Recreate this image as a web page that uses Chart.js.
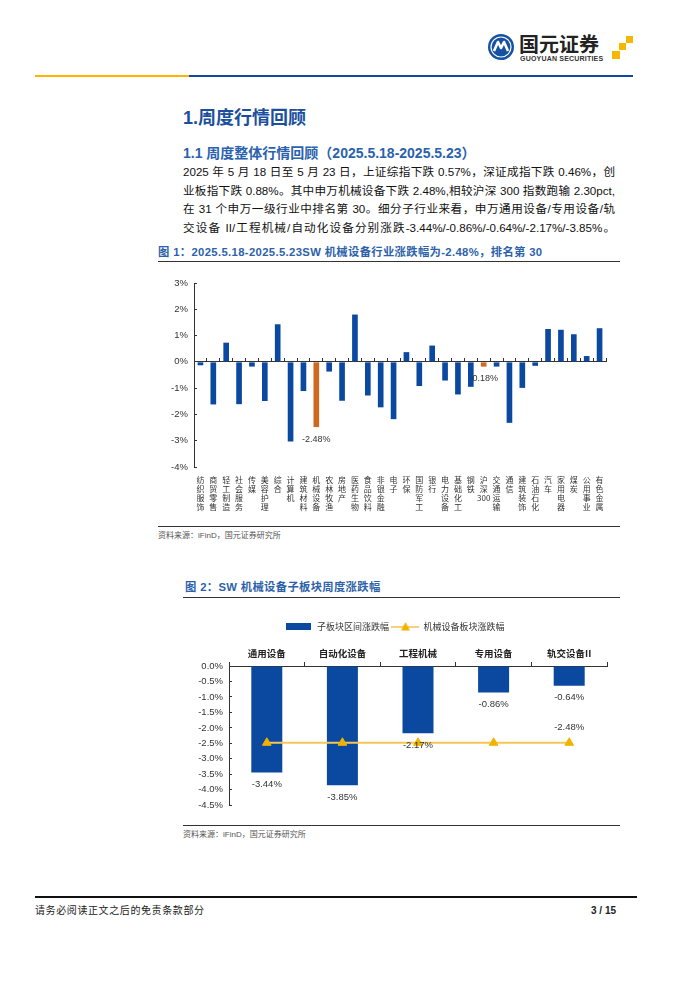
<!DOCTYPE html>
<html>
<head>
<meta charset="utf-8">
<script src="https://cdn.jsdelivr.net/npm/chart.js@4.4.1/dist/chart.umd.min.js"></script>
<style>
  body { margin:0; width:700px; height:990px; background:#fff; position:relative; overflow:hidden;
         font-family:"Liberation Sans","Noto Sans CJK SC",sans-serif; color:#111; }
  .abs { position:absolute; white-space:nowrap; }
  .rule { position:absolute; height:0; border-top:1.5px solid #333; }
  .h1 { left:183px; top:107px; font-size:18px; line-height:22px; font-weight:bold; color:#1b4f9e; }
  .h2 { left:183px; top:144px; font-size:14px; line-height:18px; font-weight:bold; color:#2a62ae; }
  .body { position:absolute; left:183px; width:432px; font-size:11.6px; line-height:18.5px;
          text-align:justify; text-align-last:justify; }
  .figtitle { font-size:11.3px; line-height:14px; font-weight:bold; color:#2d62aa; letter-spacing:0.35px; }
  .src { font-size:8px; line-height:10px; color:#555; }
  canvas { position:absolute; }
</style>
</head>
<body>

<!-- header -->
<svg class="abs" style="left:486px;top:32px" width="30" height="30" viewBox="0 0 30 30">
  <circle cx="15" cy="15" r="13" fill="#1552a3"/>
  <path d="M8 19 L12 10 L15 16 L18 10 L22 19" stroke="#fff" stroke-width="2.6" fill="none" stroke-linejoin="round"/>
  <circle cx="15" cy="15" r="10" stroke="#fff" stroke-width="1.2" fill="none"/>
</svg>
<div class="abs" style="left:519px;top:32px;font-size:20px;line-height:24px;font-weight:bold;color:#222;font-family:'Noto Sans CJK SC';">国元证券</div>
<div class="abs" style="left:520px;top:55px;font-size:7px;line-height:8px;font-weight:bold;color:#333;letter-spacing:0.2px;">GUOYUAN SECURITIES</div>
<div class="abs" style="left:626px;top:36px;width:7px;height:7px;background:#f5b800"></div>
<div class="abs" style="left:619px;top:43px;width:7px;height:7px;background:#f5b800"></div>
<div class="abs" style="left:612px;top:51px;width:8px;height:8px;background:#f5b800"></div>
<div class="abs" style="left:35px;top:75px;width:154px;height:2px;background:#ffb400"></div>
<div class="abs" style="left:189px;top:75px;width:444px;height:2px;background:#1148a0"></div>

<!-- headings and text -->
<div class="abs h1">1.周度行情回顾</div>
<div class="abs h2">1.1 周度整体行情回顾（2025.5.18-2025.5.23）</div>
<div class="body" style="top:163px">2025 年 5 月 18 日至 5 月 23 日，上证综指下跌 0.57%，深证成指下跌 0.46%，创</div>
<div class="body" style="top:181.5px">业板指下跌 0.88%。其中申万机械设备下跌 2.48%,相较沪深 300 指数跑输 2.30pct,</div>
<div class="body" style="top:200px">在 31 个申万一级行业中排名第 30。细分子行业来看，申万通用设备/专用设备/轨</div>
<div class="body" style="top:218.5px">交设备 II/工程机械/自动化设备分别涨跌-3.44%/-0.86%/-0.64%/-2.17%/-3.85%。</div>

<!-- figure 1 -->
<div class="abs figtitle" style="left:158px;top:245px">图 1：2025.5.18-2025.5.23SW 机械设备行业涨跌幅为-2.48%，排名第 30</div>
<div class="rule" style="left:158px;top:261px;width:462px"></div>
<canvas id="chart1" width="462" height="258" style="left:158px;top:266px;width:462px;height:258px"></canvas>
<div class="rule" style="left:158px;top:526px;width:462px"></div>
<div class="abs src" style="left:158px;top:531px">资料来源：iFinD，国元证券研究所</div>

<!-- figure 2 -->
<div class="abs figtitle" style="left:185px;top:580px">图 2：SW 机械设备子板块周度涨跌幅</div>
<div class="rule" style="left:183px;top:597px;width:437px"></div>
<canvas id="chart2" width="437" height="215" style="left:183px;top:605px;width:437px;height:215px"></canvas>
<div class="rule" style="left:183px;top:825px;width:437px"></div>
<div class="abs src" style="left:183px;top:830px">资料来源：iFinD，国元证券研究所</div>

<!-- footer -->
<div class="rule" style="left:35px;top:896px;width:602px;border-top-width:2px;border-color:#111"></div>
<div class="abs" style="left:35px;top:905px;font-size:10px;line-height:12px;color:#222;letter-spacing:0.6px">请务必阅读正文之后的免责条款部分</div>
<div class="abs" style="left:591px;top:905px;font-size:10px;line-height:12px;font-weight:bold;color:#222">3 / 15</div>

<script>
// 图1 数据
const industryNames = ['纺织服饰','商贸零售','轻工制造','社会服务','传媒','美容护理','综合','计算机',
  '建筑材料','机械设备','农林牧渔','房地产','医药生物','食品饮料','非银金融','电子','环保','国防军工',
  '银行','电力设备','基础化工','钢铁','沪深300','交通运输','通信','建筑装饰','石油石化','汽车',
  '家用电器','煤炭','公用事业','有色金属'];
const weeklyChange = [-0.13,-1.62,0.73,-1.61,-0.18,-1.49,1.43,-3.03,-1.11,-2.48,-0.37,-1.48,1.80,-1.28,
  -1.73,-2.18,0.37,-0.92,0.62,-0.71,-1.24,-0.95,-0.18,-0.18,-2.32,-0.99,-0.15,1.25,1.22,1.05,0.22,1.28];
const highlighted = ['机械设备','沪深300'];
const yTicks1 = { min:-4, max:3, step:1 };

// 图2 数据
const subSectors = ['通用设备','自动化设备','工程机械','专用设备','轨交设备II'];
const subChange = [-3.44,-3.85,-2.17,-0.86,-0.64];
const sectorChange = [-2.48,-2.48,-2.48,-2.48,-2.48];
const legendNames = ['子板块区间涨跌幅','机械设备板块涨跌幅'];
const yTicks2 = { min:-4.5, max:0, step:0.5 };

const BLUE = '#0b48a0', ORANGE = '#d0691d', GOLD = '#f2b300', GOLD_LINE = '#f6c655';
const AXIS = '#333';
const numFont = { family:'Liberation Sans', size:9.5 };

// 数值标签
const valueLabels = {
  id: 'valueLabels',
  afterDatasetsDraw(chart, args, opts) {
    const ctx = chart.ctx;
    ctx.save();
    ctx.font = opts.font;
    ctx.fillStyle = opts.color;
    ctx.textAlign = 'center';
    ctx.textBaseline = 'middle';
    opts.items.forEach(it => {
      const el = chart.getDatasetMeta(it.ds).data[it.i];
      const v = chart.data.datasets[it.ds].data[it.i];
      ctx.fillText(v.toFixed(2) + '%', el.x, el.y + it.dy);
    });
    ctx.restore();
  }
};

const labels1 = industryNames.map(n => n === '沪深300' ? ['沪','深','300'] : n.split(''));

new Chart(document.getElementById('chart1'), {
  type: 'bar',
  data: {
    labels: labels1,
    datasets: [{
      data: weeklyChange,
      xAxisID: 'x', yAxisID: 'y',
      backgroundColor: industryNames.map(n => highlighted.includes(n) ? ORANGE : BLUE),
      barPercentage: 0.44, categoryPercentage: 1
    }]
  },
  options: {
    responsive: false, animation: false, events: [],
    layout: { padding: { top: 17, right: 14, left: 0, bottom: 0 } },
    plugins: {
      legend: { display: false }, tooltip: { enabled: false },
      valueLabels: {
        font: '9px "Liberation Sans"', color: '#333',
        items: highlighted.map(n => ({ ds: 0, i: industryNames.indexOf(n), dy: 12 }))
      }
    },
    scales: {
      x: {
        position: 'bottom', offset: true,
        grid: { display: false, drawTicks: false, tickLength: 0 },
        border: { display: false },
        ticks: { autoSkip: false, maxRotation: 0, minRotation: 0, padding: 8, color: '#333',
                 font: { family: 'Noto Sans CJK SC', size: 8, lineHeight: 1.15 } },
        afterFit: s => { s.height = 57; }
      },
      x0: {
        type: 'category', axis: 'x', position: { y: 0 }, offset: true,
        grid: { offset: true, drawOnChartArea: false, tickLength: -4, color: AXIS },
        border: { display: true, color: AXIS },
        ticks: { display: false }
      },
      y: {
        min: yTicks1.min, max: yTicks1.max,
        ticks: { stepSize: yTicks1.step, callback: v => v + '%', padding: 9, color: '#333', font: numFont },
        grid: { drawOnChartArea: false, tickLength: -3, color: AXIS },
        border: { color: AXIS },
        afterFit: s => { s.width = 36; }
      }
    }
  },
  plugins: [valueLabels]
});

// 图例图标
function makeIcon(w, h, draw) {
  const c = document.createElement('canvas');
  c.width = w; c.height = h;
  draw(c.getContext('2d'));
  return c;
}
const barIcon = makeIcon(25, 7, g => { g.fillStyle = BLUE; g.fillRect(0, 0, 25, 7); });
const lineIcon = makeIcon(28, 9, g => {
  g.strokeStyle = GOLD_LINE; g.lineWidth = 1.6;
  g.beginPath(); g.moveTo(0, 5); g.lineTo(28, 5); g.stroke();
  g.fillStyle = GOLD;
  g.beginPath(); g.moveTo(14, 0); g.lineTo(18.5, 8.5); g.lineTo(9.5, 8.5); g.closePath(); g.fill();
});

new Chart(document.getElementById('chart2'), {
  type: 'bar',
  data: {
    labels: subSectors,
    datasets: [
      { label: legendNames[0], data: subChange, backgroundColor: BLUE,
        barPercentage: 0.41, categoryPercentage: 1, order: 1 },
      { type: 'line', label: legendNames[1], data: sectorChange, order: 0,
        borderColor: GOLD_LINE, borderWidth: 2, pointStyle: 'triangle', pointRadius: 5,
        pointBackgroundColor: GOLD, pointBorderColor: GOLD, pointBorderWidth: 1 }
    ]
  },
  options: {
    responsive: false, animation: false, events: [],
    layout: { padding: { top: 14, right: 13, left: 0, bottom: 14 } },
    plugins: {
      tooltip: { enabled: false },
      legend: {
        position: 'top',
        labels: {
          usePointStyle: true, pointStyleWidth: 27, padding: 3, color: '#333',
          font: { family: 'Noto Sans CJK SC', size: 9 },
          generateLabels: chart => chart.data.datasets.map((ds, i) => ({
            text: ds.label, datasetIndex: i, hidden: false, lineWidth: 0,
            fillStyle: i === 0 ? BLUE : GOLD, strokeStyle: i === 0 ? BLUE : GOLD,
            pointStyle: i === 0 ? barIcon : lineIcon, fontColor: '#333'
          }))
        }
      },
      valueLabels: {
        font: '9.5px "Liberation Sans"', color: '#333',
        items: subChange.map((v, i) => ({ ds: 0, i, dy: 12 }))
          .concat([{ ds: 1, i: sectorChange.length - 1, dy: -15 }])
      }
    },
    scales: {
      x: {
        position: 'top', offset: true,
        grid: { offset: true, drawOnChartArea: false, tickLength: 4, color: AXIS },
        border: { color: AXIS },
        ticks: { padding: 3, color: '#222', font: { family: 'Noto Sans CJK SC', size: 9.5, weight: 'bold' } },
        afterFit: s => { s.height = 25; }
      },
      y: {
        min: yTicks2.min, max: yTicks2.max,
        ticks: { stepSize: yTicks2.step, callback: v => (Math.abs(v) < 1e-9 ? '0.0' : v.toFixed(1)) + '%',
                 padding: 9, color: '#333', font: numFont },
        grid: { drawOnChartArea: false, tickLength: -3, color: AXIS },
        border: { color: AXIS },
        afterFit: s => { s.width = 46; }
      }
    }
  },
  plugins: [valueLabels]
});
</script>
</body>
</html>
